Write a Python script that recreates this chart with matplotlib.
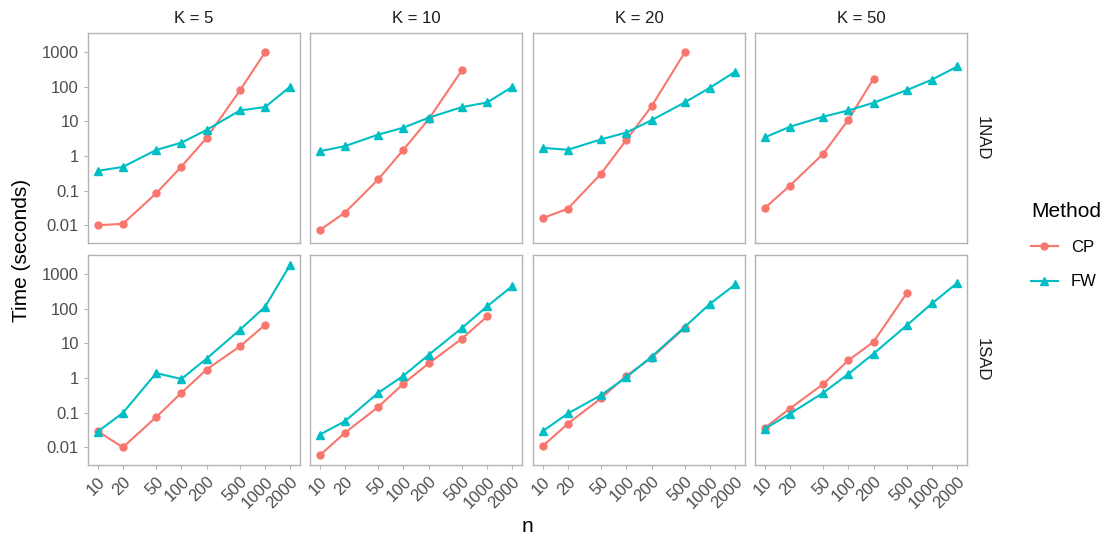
import matplotlib
matplotlib.use("Agg")
import matplotlib.pyplot as plt
import numpy as np
from matplotlib.lines import Line2D

plt.rcParams["font.family"] = ["Liberation Sans", "DejaVu Sans"]

# data
n_values = [10, 20, 50, 100, 200, 500, 1000, 2000]
k_labels = ["K = 5", "K = 10", "K = 20", "K = 50"]
row_labels = ["1NAD", "1SAD"]
methods = ["CP", "FW"]

# 1NAD row
cp_1nad_k5 = [0.010, 0.011, 0.083, 0.49, 3.3, 77, 980]
fw_1nad_k5 = [0.37, 0.48, 1.48, 2.4, 5.6, 20.4, 25.6, 100]
cp_1nad_k10 = [0.0072, 0.023, 0.21, 1.5, 11.4, 295]
fw_1nad_k10 = [1.36, 1.9, 4.1, 6.5, 12.6, 25.5, 34.6, 98]
cp_1nad_k20 = [0.016, 0.030, 0.31, 2.9, 27, 980]
fw_1nad_k20 = [1.7, 1.5, 3.0, 4.7, 10.7, 35, 93, 270]
cp_1nad_k50 = [0.031, 0.138, 1.15, 11, 170]
fw_1nad_k50 = [3.4, 6.9, 13.5, 20.4, 34, 79, 158, 380]

# 1SAD row
cp_1sad_k5 = [0.029, 0.010, 0.074, 0.37, 1.74, 8.1, 34]
fw_1sad_k5 = [0.028, 0.098, 1.37, 0.93, 3.6, 24.4, 113, 1850]
cp_1sad_k10 = [0.0058, 0.026, 0.145, 0.68, 2.6, 13.5, 59]
fw_1sad_k10 = [0.023, 0.056, 0.37, 1.15, 4.6, 27.4, 116, 445]
cp_1sad_k20 = [0.0107, 0.048, 0.26, 1.15, 3.8, 28]
fw_1sad_k20 = [0.029, 0.094, 0.32, 1.05, 4.1, 29.7, 138, 495]
cp_1sad_k50 = [0.036, 0.13, 0.66, 3.2, 11, 280]
fw_1sad_k50 = [0.034, 0.092, 0.37, 1.3, 5.0, 33, 141, 550]

cp_series = [[cp_1nad_k5, cp_1nad_k10, cp_1nad_k20, cp_1nad_k50],
             [cp_1sad_k5, cp_1sad_k10, cp_1sad_k20, cp_1sad_k50]]
fw_series = [[fw_1nad_k5, fw_1nad_k10, fw_1nad_k20, fw_1nad_k50],
             [fw_1sad_k5, fw_1sad_k10, fw_1sad_k20, fw_1sad_k50]]

y_ticks = [0.01, 0.1, 1, 10, 100, 1000]
y_ticklabels = ["0.01", "0.1", "1", "10", "100", "1000"]

CP_COLOR = "#F8766D"
FW_COLOR = "#00BFC4"
BORDER = "#B3B3B3"
TICKTEXT = "#4D4D4D"

W, H = 1107, 542
fig = plt.figure(figsize=(W / 100, H / 100), dpi=100)

col_left = [88, 310, 533, 755]
col_w = 212
row_top = [33, 255]
row_h = 210


def log_lims(values):
    lo, hi = np.log10(min(values)), np.log10(max(values))
    pad = (hi - lo) * 0.05
    return 10 ** (lo - pad), 10 ** (hi + pad)


all_y = [v for rows in (cp_series, fw_series) for r in rows for s in r for v in s]
ylim = log_lims(all_y)
xlim = log_lims(n_values)

for i in range(2):
    for j in range(4):
        ax = fig.add_axes([col_left[j] / W, 1 - (row_top[i] + row_h) / H,
                           col_w / W, row_h / H])
        cp = cp_series[i][j]
        fw = fw_series[i][j]
        ax.plot(n_values[:len(cp)], cp, color=CP_COLOR, lw=1.5, marker="o",
                ms=5, zorder=3)
        ax.plot(n_values[:len(fw)], fw, color=FW_COLOR, lw=1.5, marker="^",
                ms=6, zorder=3)
        ax.set_xscale("log")
        ax.set_yscale("log")
        ax.set_xlim(*xlim)
        ax.set_ylim(*ylim)
        ax.minorticks_off()
        for s in ax.spines.values():
            s.set_color(BORDER)
            s.set_linewidth(1.0)
        ax.tick_params(colors=BORDER, labelcolor=TICKTEXT, labelsize=12,
                       length=3, width=0.8)
        ax.set_yticks(y_ticks)
        ax.set_xticks(n_values)
        if j == 0:
            ax.set_yticklabels(y_ticklabels)
        else:
            ax.tick_params(axis="y", left=False, labelleft=False)
        if i == 1:
            ax.set_xticklabels([str(n) for n in n_values], rotation=45,
                               ha="right", va="top", rotation_mode="anchor")
        else:
            ax.tick_params(axis="x", bottom=False, labelbottom=False)
        if i == 0:
            ax.set_title(k_labels[j], fontsize=12, color="#1A1A1A", pad=7)
        if j == 3:
            ax.text(1.035, 0.5, row_labels[i], transform=ax.transAxes,
                    rotation=-90, ha="left", va="center", fontsize=12,
                    color="#1A1A1A")

fig.text(527 / W, 1 - 527 / H, "n", ha="center", va="center", fontsize=15)
fig.text(22 / W, 1 - 250 / H, "Time (seconds)", ha="center", va="center",
         rotation=90, fontsize=15)

handles = [Line2D([], [], color=CP_COLOR, lw=1.5, marker="o", ms=5),
           Line2D([], [], color=FW_COLOR, lw=1.5, marker="^", ms=6)]
leg = fig.legend(handles, methods, title="Method", loc="upper left",
                 bbox_to_anchor=(1031 / W, 1 - 202 / H), frameon=False,
                 fontsize=12, title_fontsize=15, handlelength=1.6,
                 handletextpad=0.8, labelspacing=1.15, borderpad=0,
                 borderaxespad=0, alignment="left")

fig.savefig("out.png", dpi=100)
